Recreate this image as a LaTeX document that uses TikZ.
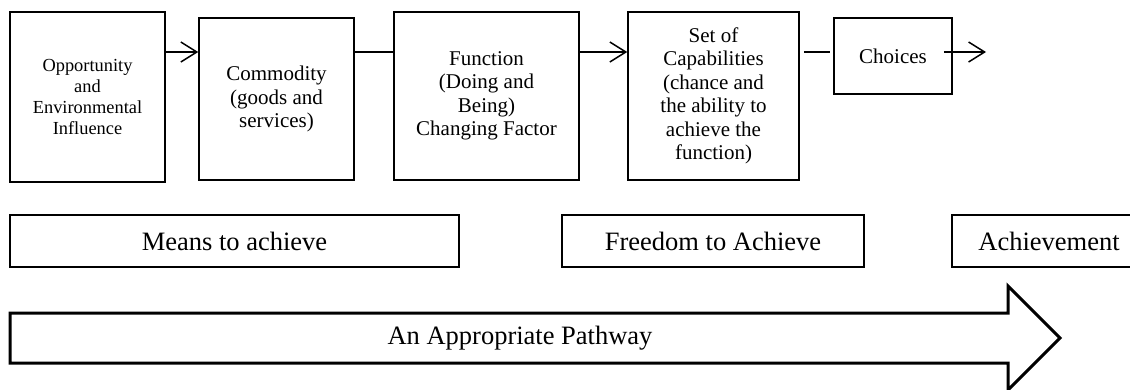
\documentclass[tikz,border=0pt]{standalone}
\usepackage{fontspec}
\setmainfont{Liberation Serif}
\usetikzlibrary{arrows.meta}

\begin{document}
\begin{tikzpicture}[x=1pt,y=-1pt,
    box/.style={draw,line width=1.5pt,inner sep=0pt,align=center,font=\fontsize{21}{23.5}\selectfont},
    stage/.style={draw,line width=1.3pt,inner sep=0pt,minimum height=52pt,font=\fontsize{26.5}{30}\selectfont},
    flow/.style={line width=1.5pt,-{Straight Barb[length=16pt,width=20pt,line width=1.5pt]}}]
        \useasboundingbox (0,0) rectangle (1130,389);
        \coordinate (row) at (0,52);
        % top row
        \node[box,minimum width=155pt,minimum height=170pt,font=\fontsize{18.4}{21}\selectfont] (O) at (87.5,97) {Opportunity\\and\\Environmental\\Influence};
        \node[box,minimum width=155pt,minimum height=162pt] (C) at (276.5,99) {Commodity\\(goods and\\services)};
        \node[box,minimum width=185pt,minimum height=168pt] (F) at (486.5,96) {Function\\(Doing and\\Being)\\Changing Factor};
        \node[box,minimum width=171pt,minimum height=168pt] (S) at (713.5,96) {Set of\\Capabilities\\(chance and\\the ability to\\achieve the\\function)};
        \node[box,minimum width=118pt,minimum height=76pt] (H) at (893,56) {Choices};
        \coordinate (E) at (986,52);
        \draw[flow] (O.east |- row) -- (C.west |- row);
        \draw[line width=1.5pt] (C.east |- row) -- (F.west |- row);
        \draw[flow] (F.east |- row) -- (S.west |- row);
        \draw[line width=1.5pt,shorten <=4pt,shorten >=3pt] (S.east |- row) -- (H.west |- row);
        \draw[flow] ([xshift=-9pt]H.east |- row) -- (E);
        % middle row
        \node[stage,minimum width=449pt] (M) at (234.5,241) {Means to achieve};
        \node[stage,minimum width=302pt] (R) at (713,241) {Freedom to Achieve};
        \node[stage,minimum width=194pt] (A) at (1049,241) {Achievement};
        % pathway
        \draw[line width=3pt,line join=miter] (10,313) -- (1008,313) -- (1008,286) -- (1060,338) -- (1008,390) -- (1008,363) -- (10,363) -- cycle;
        \node[font=\fontsize{26.5}{30}\selectfont] (P) at (520,338) {An Appropriate Pathway};
    \end{tikzpicture}
\end{document}
